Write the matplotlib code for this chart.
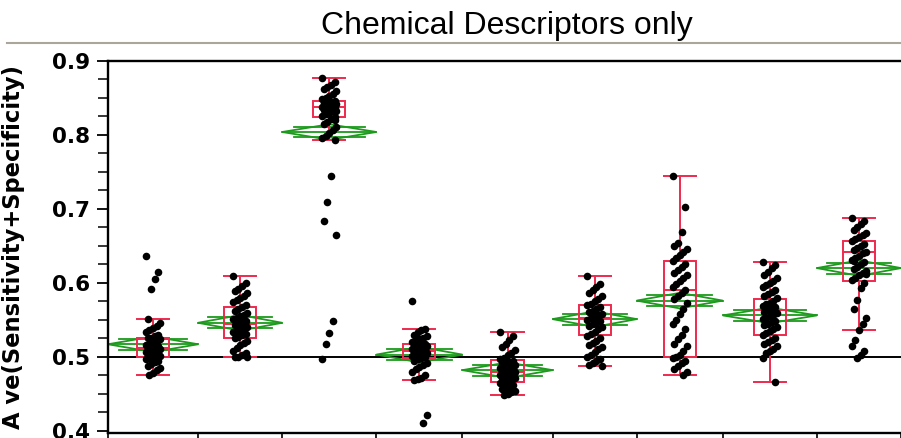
import numpy as np
import matplotlib
matplotlib.use('Agg')
import matplotlib.pyplot as plt
from matplotlib.lines import Line2D
from matplotlib.patches import Polygon, Rectangle
from matplotlib.ticker import MultipleLocator, FormatStrFormatter

g1 = [0.637, 0.615, 0.605, 0.592, 0.551, 0.546, 0.542, 0.539, 0.536, 0.533,
      0.530, 0.528, 0.526, 0.525, 0.524, 0.522, 0.520, 0.518, 0.516, 0.515,
      0.514, 0.513, 0.512, 0.511, 0.510, 0.509, 0.508, 0.506, 0.505, 0.504,
      0.503, 0.502, 0.501, 0.500, 0.500, 0.499, 0.497, 0.495, 0.493, 0.490,
      0.488, 0.485, 0.482, 0.478, 0.475]
g2 = [0.609, 0.600, 0.596, 0.592, 0.589, 0.586, 0.582, 0.580, 0.577, 0.574,
      0.570, 0.567, 0.565, 0.562, 0.559, 0.557, 0.555, 0.553, 0.551, 0.549,
      0.547, 0.545, 0.543, 0.541, 0.539, 0.537, 0.535, 0.533, 0.531, 0.529,
      0.527, 0.525, 0.522, 0.519, 0.516, 0.512, 0.508, 0.505, 0.502, 0.500,
      0.500, 0.500]
g3 = [0.877, 0.872, 0.868, 0.865, 0.862, 0.859, 0.856, 0.853, 0.850, 0.848,
      0.846, 0.845, 0.844, 0.843, 0.842, 0.841, 0.840, 0.839, 0.838, 0.837,
      0.836, 0.835, 0.834, 0.833, 0.832, 0.830, 0.828, 0.826, 0.824, 0.821,
      0.818, 0.815, 0.811, 0.807, 0.803, 0.799, 0.796, 0.793, 0.745, 0.710,
      0.683, 0.665, 0.549, 0.532, 0.518, 0.497, 0.820]
g4 = [0.575, 0.538, 0.536, 0.533, 0.530, 0.528, 0.526, 0.524, 0.522, 0.520,
      0.518, 0.517, 0.516, 0.515, 0.514, 0.513, 0.512, 0.511, 0.510, 0.509,
      0.508, 0.507, 0.506, 0.505, 0.504, 0.503, 0.502, 0.501, 0.500, 0.499,
      0.497, 0.495, 0.492, 0.489, 0.486, 0.483, 0.480, 0.476, 0.472, 0.470,
      0.469, 0.422, 0.410]
g5 = [0.533, 0.528, 0.523, 0.518, 0.513, 0.509, 0.505, 0.502, 0.499, 0.497,
      0.495, 0.493, 0.491, 0.490, 0.489, 0.488, 0.487, 0.486, 0.485, 0.484,
      0.483, 0.482, 0.481, 0.480, 0.479, 0.478, 0.477, 0.476, 0.475, 0.474,
      0.473, 0.472, 0.471, 0.470, 0.468, 0.466, 0.464, 0.462, 0.460, 0.458,
      0.456, 0.454, 0.452, 0.450, 0.448]
g6 = [0.609, 0.598, 0.594, 0.590, 0.586, 0.582, 0.578, 0.575, 0.572, 0.570,
      0.567, 0.564, 0.562, 0.560, 0.558, 0.556, 0.554, 0.552, 0.550, 0.548,
      0.546, 0.544, 0.542, 0.540, 0.537, 0.534, 0.531, 0.528, 0.525, 0.522,
      0.519, 0.516, 0.513, 0.510, 0.506, 0.503, 0.500, 0.497, 0.494, 0.491,
      0.489, 0.488]
g7 = [0.745, 0.703, 0.669, 0.654, 0.650, 0.646, 0.642, 0.638, 0.634, 0.630,
      0.626, 0.622, 0.618, 0.614, 0.610, 0.606, 0.602, 0.598, 0.594, 0.590,
      0.586, 0.582, 0.578, 0.573, 0.565, 0.558, 0.550, 0.545, 0.538, 0.530,
      0.524, 0.518, 0.514, 0.508, 0.503, 0.500, 0.498, 0.495, 0.491, 0.487,
      0.483, 0.479, 0.475]
g8 = [0.628, 0.624, 0.620, 0.615, 0.611, 0.607, 0.603, 0.600, 0.597, 0.594,
      0.591, 0.588, 0.585, 0.582, 0.579, 0.576, 0.573, 0.571, 0.569, 0.567,
      0.565, 0.563, 0.561, 0.559, 0.557, 0.555, 0.553, 0.551, 0.549, 0.547,
      0.545, 0.543, 0.541, 0.538, 0.535, 0.532, 0.529, 0.526, 0.523, 0.520,
      0.517, 0.514, 0.511, 0.508, 0.505, 0.499, 0.466]
g9 = [0.688, 0.684, 0.680, 0.676, 0.672, 0.668, 0.665, 0.662, 0.659, 0.656,
      0.653, 0.650, 0.647, 0.644, 0.642, 0.640, 0.637, 0.634, 0.631, 0.628,
      0.625, 0.622, 0.619, 0.616, 0.613, 0.610, 0.607, 0.604, 0.600, 0.593,
      0.577, 0.565, 0.553, 0.545, 0.536, 0.523, 0.515, 0.508, 0.502, 0.498,
      0.630, 0.612]
groups = [g1, g2, g3, g4, g5, g6, g7, g8, g9]

# box plot summaries and means as drawn by JMP
whisk_lo = [0.475, 0.500, 0.793, 0.469, 0.448, 0.488, 0.475, 0.466, 0.536]
q1 = [0.500, 0.525, 0.824, 0.499, 0.466, 0.530, 0.500, 0.530, 0.603]
med = [0.512, 0.545, 0.838, 0.508, 0.480, 0.552, 0.591, 0.563, 0.642]
q3 = [0.525, 0.567, 0.846, 0.517, 0.496, 0.570, 0.629, 0.578, 0.657]
whisk_hi = [0.551, 0.609, 0.877, 0.538, 0.533, 0.609, 0.745, 0.628, 0.688]
means = [0.517, 0.546, 0.804, 0.503, 0.482, 0.551, 0.576, 0.556, 0.620]
ci = 0.0105
ref_line = 0.5

red = '#ee2a4e'
green = '#1c9a1c'

fig = plt.figure(figsize=(9.01, 4.38), dpi=100)
ax = fig.add_axes([108 / 901, 5 / 438, 1 - 108 / 901, (433 - 61) / 438])

ax.axhline(ref_line, color='black', lw=1.4, zorder=1)

left = 0
bounds = [0]
for i, vals in enumerate(groups):
    n = len(vals)
    c = left + n / 2
    right = left + n
    # mean diamond
    m = means[i]
    ax.add_patch(Polygon([(left, m), (c, m + ci), (right, m), (c, m - ci)],
                         closed=True, fill=False, ec=green, lw=1.3, zorder=2))
    ax.plot([left, right], [m, m], color=green, lw=1.3, zorder=2)
    off = ci / np.sqrt(2)
    for yy in (m - off, m + off):
        ax.plot([left + 0.12 * n, right - 0.12 * n], [yy, yy], color=green, lw=1.3, zorder=2)
    # box plot
    bw = 16
    ax.add_patch(Rectangle((c - bw / 2, q1[i]), bw, q3[i] - q1[i], fill=False,
                           ec=red, lw=1.4, zorder=3))
    ax.plot([c - bw / 2, c + bw / 2], [med[i], med[i]], color=red, lw=1.4, zorder=3)
    ax.plot([c, c], [q3[i], whisk_hi[i]], color=red, lw=1.4, zorder=3)
    ax.plot([c, c], [whisk_lo[i], q1[i]], color=red, lw=1.4, zorder=3)
    for yy in (whisk_lo[i], whisk_hi[i]):
        ax.plot([c - bw / 2, c + bw / 2], [yy, yy], color=red, lw=1.4, zorder=3)
    # jittered points (deterministic spread)
    jit = np.array([((k * 7) % 9 - 4) * 0.9 for k in range(n)])
    ax.scatter(c + jit, vals, s=30, color='black', zorder=4, linewidths=0)
    left = right
    bounds.append(right)

ax.set_xlim(0, 394.5)
ax.set_ylim(0.397, 0.9)

for s in ('left', 'top', 'bottom'):
    ax.spines[s].set_linewidth(1.7)
ax.spines['right'].set_visible(False)

ax.set_xticks(bounds)
ax.set_xticklabels([])
ax.tick_params(axis='x', length=8, width=1.2, direction='out')

ax.yaxis.set_major_locator(MultipleLocator(0.1))
ax.yaxis.set_minor_locator(MultipleLocator(0.025))
ax.yaxis.set_major_formatter(FormatStrFormatter('%.1f'))
ax.tick_params(axis='y', which='major', length=8, width=1.3, pad=5)
ax.tick_params(axis='y', which='minor', length=7, width=1.1)
for lab in ax.get_yticklabels():
    lab.set_fontfamily('DejaVu Sans')
    lab.set_fontweight('bold')
    lab.set_fontsize(15.5)

ax.set_ylabel('A ve(Sensitivity+Specificity)', fontfamily='DejaVu Sans',
              fontweight='bold', fontsize=16.3)
ax.yaxis.set_label_coords(-0.105, 0.5)

fig.text(507 / 901, 1 - 34.3 / 438, 'Chemical Descriptors only', ha='center',
         va='baseline', fontsize=23, fontfamily='Liberation Sans')
fig.add_artist(Line2D([7 / 901, 1], [1 - 42.7 / 438] * 2, color='#aaa69a', lw=1.5))

fig.savefig('out.png', dpi=100)
